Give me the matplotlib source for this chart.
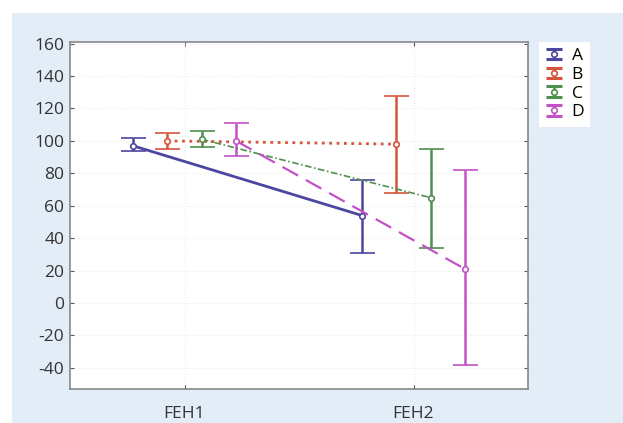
import matplotlib
matplotlib.use("Agg")
import matplotlib.pyplot as plt
from matplotlib.patches import Rectangle
from matplotlib.legend_handler import HandlerErrorbar
from matplotlib.container import ErrorbarContainer
import numpy as np

categories = ["FEH1", "FEH2"]
series = ["A", "B", "C", "D"]
means = {"A": [97, 54], "B": [100, 98], "C": [101, 65], "D": [100, 21]}
lower = {"A": [94, 31], "B": [95, 68], "C": [96, 34], "D": [91, -38]}
upper = {"A": [102, 76], "B": [105, 128], "C": [106, 95], "D": [111, 82]}
yticks = [-40, -20, 0, 20, 40, 60, 80, 100, 120, 140, 160]

colors = {"A": "#4b46a0", "B": "#d4553a", "C": "#4f8f4f", "D": "#c252c6"}
styles = {"A": "-", "B": ":", "C": (0, (4, 1.5, 1, 1.5)), "D": (0, (8, 4))}
widths = {"A": 2.0, "B": 2.0, "C": 1.2, "D": 1.6}
offsets = {"A": -0.225, "B": -0.075, "C": 0.075, "D": 0.225}

plt.rcParams['font.family'] = ['Open Sans', 'DejaVu Sans']
plt.rcParams['axes.unicode_minus'] = False

fig = plt.figure(figsize=(6.23, 4.23), dpi=100, facecolor="white")
bg = Rectangle((12 / 623, 0), 1 - 12 / 623, 1 - 13 / 423,
               transform=fig.transFigure, facecolor="#e3edf7",
               edgecolor="none", zorder=-10)
fig.add_artist(bg)
ax = fig.add_axes([70 / 623, 1 - 389 / 423, 458 / 623, (389 - 42) / 423])
ax.set_facecolor("white")
ax.set_zorder(1)

x = np.arange(len(categories))
for s in series:
    m = np.array(means[s])
    yerr = np.array([m - np.array(lower[s]), np.array(upper[s]) - m])
    ax.errorbar(x + offsets[s], m, yerr=yerr, color=colors[s], linestyle=styles[s],
                linewidth=widths[s], elinewidth=1.8, capsize=9, capthick=1.8,
                marker="o", markersize=4, markerfacecolor="white",
                markeredgewidth=1.2, label=s)

ax.set_xlim(-0.5, 1.5)
ax.set_ylim(-53, 161)
ax.set_xticks(x)
ax.set_xticklabels(categories)
ax.set_yticks(yticks)
ax.tick_params(axis="both", direction="in", length=3, color="#555555",
               labelsize=12.5, labelcolor="#333333", top=True, right=True)
ax.tick_params(axis="y", pad=4)
ax.tick_params(axis="x", pad=12)
ax.grid(True, color="#ececec", linestyle=":", linewidth=0.8)
for sp in ax.spines.values():
    sp.set_color("#888888")
    sp.set_linewidth(1.2)


def _shrink(legend_handle, orig_handle):
    legend_handle.update_from(orig_handle)
    if not hasattr(orig_handle, "get_marker"):
        return
    if orig_handle.get_marker() == "_":
        legend_handle.set_markersize(11)
        legend_handle.set_markeredgewidth(2.2)
    elif orig_handle.get_marker() == "o":
        legend_handle.set_linestyle("none")


leg = ax.legend(loc="upper left", bbox_to_anchor=(1.025, 1.0), frameon=True,
                fancybox=False, edgecolor="none", facecolor="white",
                fontsize=12.5, handlelength=1.0, borderaxespad=0,
                labelspacing=0.15, handletextpad=0.5, borderpad=0.35,
                handler_map={ErrorbarContainer: HandlerErrorbar(yerr_size=0.3, update_func=_shrink)})
leg.get_frame().set_alpha(1)

fig.savefig("out.png", dpi=100, facecolor=fig.get_facecolor())
